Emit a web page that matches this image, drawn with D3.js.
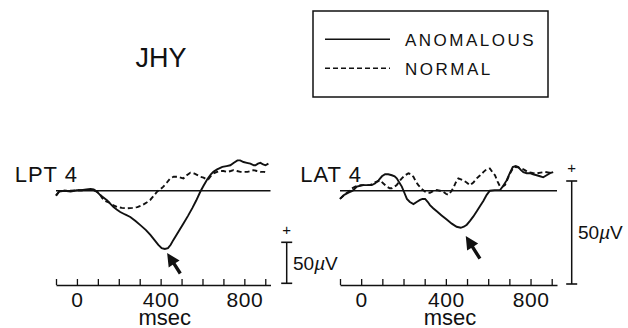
<!DOCTYPE html>
<html>
<head>
<meta charset="utf-8">
<script src="https://cdn.jsdelivr.net/npm/d3@7"></script>
<style>
  body { margin: 0; background: #fff; }
  svg { display: block; }
</style>
</head>
<body>
<svg width="628" height="328"></svg>
<script>
// data: [msec, microvolts]
const lptAnomalous = [[-100,-6],[-85,-1],[-60,0],[-30,-1],[0,0.5],[20,0.5],[45,1.5],[65,2],[80,1.5],[95,-1],[110,-5],[125,-8],[145,-12],[160,-16],[175,-20],[190,-23],[207,-26],[230,-29],[255,-32],[280,-37],[303,-42],[330,-48],[351,-54],[370,-60],[389,-66],[405,-70],[420,-71],[435,-70],[448,-66],[461,-60],[485,-50],[509,-40],[530,-31],[552,-21],[570,-12],[590,-1],[605,6],[623,14],[640,20],[652,23],[670,26],[695,29],[715,30],[733,31],[750,34],[767,37],[780,37],[796,35],[812,34],[829,33],[845,31],[853,31],[865,33],[877,34],[890,32],[901,31],[915,33]];
const lptNormal = [[-100,-6],[-85,-1],[-60,0],[-30,0],[0,0.5],[30,0.5],[60,1],[85,0],[100,-2],[111,-5],[121,-9],[140,-13],[159,-15],[175,-18],[193,-20],[215,-21],[241,-21.5],[265,-21],[289,-20],[317,-17],[335,-14],[351,-11],[368,-6],[384,-1],[400,2],[413,5],[430,10],[446,15],[462,17],[480,17],[495,16],[509,15],[525,19],[542,22],[560,21],[576,19],[590,17],[605,16],[618,14],[628,14],[640,18],[652,21],[670,23],[686,24],[700,24],[719,23],[735,24],[748,25],[765,24],[781,23],[800,23],[815,23],[830,24],[844,25],[860,24],[877,23],[895,23],[910,22]];
const latAnomalous = [[-100,-4],[-80,-2],[-60,-1],[-40,0],[-20,2],[0,2.5],[11,2.7],[30,2.7],[50,2.7],[65,3.5],[82,5],[98,7],[113,8],[128,8],[145,7.5],[158,7],[168,6],[180,4],[192,2],[204,-1],[216,-4],[230,-5.5],[247,-6.5],[262,-5.5],[278,-4.5],[290,-4],[302,-4],[315,-5.5],[325,-7],[340,-8.5],[357,-10],[380,-12],[404,-14],[428,-16],[451,-17.5],[470,-18],[485,-17.5],[499,-16.5],[515,-14.5],[530,-12.5],[546,-10],[561,-7.5],[577,-5],[593,-2],[608,0],[630,0.3],[656,0.3],[672,2.5],[687,5],[700,8],[716,11.5],[730,12],[742,11.5],[755,10],[766,9],[782,8.5],[797,8.5],[812,8],[829,7.5],[845,7],[860,6.5],[876,7.5],[892,8.5],[907,9]];
const latNormal = [[-100,-4],[-80,-2],[-60,-0.5],[-45,1],[-28,2],[-10,2.5],[3,2.7],[20,2.7],[42,2.7],[65,4],[90,5],[105,3.5],[121,2],[135,1.2],[145,1.2],[158,2],[168,2.7],[180,4.5],[192,6],[208,7.5],[223,8.4],[235,8],[247,6.7],[258,4.5],[270,2.7],[285,1],[302,-0.5],[315,-1],[325,-1],[340,-0.2],[357,0.3],[372,0],[388,-0.5],[400,-1.5],[412,-2],[424,-0.5],[435,1.2],[447,4],[459,6],[471,5.5],[483,5],[498,4],[514,2.7],[530,4],[546,6],[562,7.5],[577,9],[593,10.5],[608,10.8],[620,9],[632,7.5],[644,4.5],[656,2],[668,2],[679,2.7],[691,5.5],[703,8.4],[715,10.5],[726,11.5],[742,11.3],[758,10.8],[773,10],[789,9],[810,8.6],[829,8.4],[848,8.8],[868,9.1],[888,8.8],[907,8.4]];

// arrows: [tip, tail] in [msec, microvolts]
const lptArrow = [[431,-76],[494,-101]];
const latArrow = [[494,-22],[561,-33]];

const xTicks = [-100,0,100,200,300,400,500,600,700,800,900];
const xTickLabels = [0,400,800];
const msDomain = [-100, 925];
const scaleBarUV = 50;

const subject = "JHY";
const seriesNames = ["ANOMALOUS", "NORMAL"];

const font = "'Liberation Sans', Arial, Helvetica, sans-serif";
const svg = d3.select("svg");

const panels = [
  { label: "LPT 4", anomalous: lptAnomalous, normal: lptNormal, arrow: lptArrow,
    xRange: [56, 270.5], zeroY: 190.7, pxPerUV: 0.82, axisY: 285,
    barX: 286.7, barBottom: 283.3, plusY: 235, barTextX: 293, barTextY: 270 },
  { label: "LAT 4", anomalous: latAnomalous, normal: latNormal, arrow: latArrow,
    xRange: [340, 557], zeroY: 190.7, pxPerUV: 2.06, axisY: 285,
    barX: 571.7, barBottom: 284, plusY: 173, barTextX: 578, barTextY: 238.5 }
];

panels.forEach(p => {
  const g = svg.append("g");

  const x = d3.scaleLinear().domain(msDomain).range(p.xRange);
  const y = d3.scaleLinear().domain([0, scaleBarUV]).range([p.zeroY, p.zeroY - scaleBarUV * p.pxPerUV]);

  // zero line
  g.append("line")
    .attr("x1", x(msDomain[0])).attr("x2", x(msDomain[1]))
    .attr("y1", y(0)).attr("y2", y(0))
    .attr("stroke", "#111").attr("stroke-width", 1.5);

  const line = d3.line().x(d => x(d[0])).y(d => y(d[1]));

  g.append("path")
    .attr("d", line(p.normal))
    .attr("fill", "none").attr("stroke", "#111")
    .attr("stroke-width", 1.9).attr("stroke-dasharray", "5,3");

  g.append("path")
    .attr("d", line(p.anomalous))
    .attr("fill", "none").attr("stroke", "#111")
    .attr("stroke-width", 1.9);

  // time axis, ticks pointing up
  const axis = d3.axisBottom(x)
    .tickValues(xTicks)
    .tickSizeInner(-6)
    .tickSizeOuter(0)
    .tickPadding(7)
    .tickFormat(d => xTickLabels.includes(d) ? d : "");
  const ax = g.append("g")
    .attr("transform", `translate(0, ${p.axisY})`)
    .call(axis);
  ax.select(".domain").attr("stroke", "#111").attr("stroke-width", 1.6);
  ax.selectAll(".tick line").attr("stroke", "#111").attr("stroke-width", 1.3);
  ax.selectAll(".tick text")
    .attr("font-family", font).attr("font-size", 21)
    .attr("letter-spacing", 0.5).attr("fill", "#111");

  g.append("text")
    .attr("x", x(420)).attr("y", 324.5)
    .attr("text-anchor", "middle")
    .attr("font-family", font).attr("font-size", 22)
    .attr("fill", "#111")
    .text("msec");

  // channel label
  g.append("text")
    .attr("x", x(msDomain[0]) + 22).attr("y", 182)
    .attr("text-anchor", "end")
    .attr("font-family", font).attr("font-size", 22)
    .attr("letter-spacing", 1)
    .attr("fill", "#111")
    .text(p.label);

  // calibration bar
  const barLen = y(0) - y(scaleBarUV);
  const barTop = p.barBottom - barLen;
  g.append("line")
    .attr("x1", p.barX).attr("x2", p.barX)
    .attr("y1", barTop).attr("y2", p.barBottom)
    .attr("stroke", "#111").attr("stroke-width", 1.5);
  [barTop, p.barBottom].forEach(yy => {
    g.append("line")
      .attr("x1", p.barX - 5.5).attr("x2", p.barX + 5.5)
      .attr("y1", yy).attr("y2", yy)
      .attr("stroke", "#111").attr("stroke-width", 1.6);
  });
  g.append("text")
    .attr("x", p.barX).attr("y", p.plusY)
    .attr("text-anchor", "middle")
    .attr("font-family", font).attr("font-size", 15)
    .attr("fill", "#111")
    .text("+");
  const bt = g.append("text")
    .attr("x", p.barTextX).attr("y", p.barTextY)
    .attr("font-family", font).attr("font-size", 19)
    .attr("fill", "#111");
  bt.append("tspan").text("50");
  bt.append("tspan").attr("font-style", "italic").text("\u00b5");
  bt.append("tspan").text("V");

  // arrow
  const tip = [x(p.arrow[0][0]), y(p.arrow[0][1])];
  const tail = [x(p.arrow[1][0]), y(p.arrow[1][1])];
  const dx = tail[0] - tip[0], dy = tail[1] - tip[1];
  const len = Math.hypot(dx, dy);
  const ux = dx / len, uy = dy / len, nx = -uy, ny = ux;
  const headLen = 13, headW = 6.5, shaftW = 1.7;
  const hb = [tip[0] + ux * headLen, tip[1] + uy * headLen];
  const pts = [
    tip,
    [hb[0] + nx * headW, hb[1] + ny * headW],
    [hb[0] + nx * shaftW, hb[1] + ny * shaftW],
    [tail[0] + nx * shaftW, tail[1] + ny * shaftW],
    [tail[0] - nx * shaftW, tail[1] - ny * shaftW],
    [hb[0] - nx * shaftW, hb[1] - ny * shaftW],
    [hb[0] - nx * headW, hb[1] - ny * headW]
  ];
  g.append("polygon")
    .attr("points", pts.map(q => q.join(",")).join(" "))
    .attr("fill", "#111");
});

// subject label
svg.append("text")
  .attr("x", 161).attr("y", 67)
  .attr("text-anchor", "middle")
  .attr("font-family", font).attr("font-size", 27)
  .attr("fill", "#111")
  .text(subject);

// legend
const legend = svg.append("g");
legend.append("rect")
  .attr("x", 313).attr("y", 11)
  .attr("width", 235).attr("height", 86)
  .attr("fill", "none").attr("stroke", "#111").attr("stroke-width", 1.5);

const legendRows = legend.selectAll(".row")
  .data(seriesNames)
  .enter().append("g")
  .attr("class", "row")
  .attr("transform", (d, i) => `translate(0, ${39.3 + i * 29})`);

legendRows.append("line")
  .attr("x1", 325).attr("x2", 390)
  .attr("stroke", "#111").attr("stroke-width", 1.5)
  .attr("stroke-dasharray", (d, i) => i === 0 ? null : "5,3");

legendRows.append("text")
  .attr("x", 405).attr("y", 6.3)
  .attr("font-family", font).attr("font-size", 17)
  .attr("letter-spacing", 2.5)
  .attr("fill", "#111")
  .text(d => d);
</script>
</body>
</html>
